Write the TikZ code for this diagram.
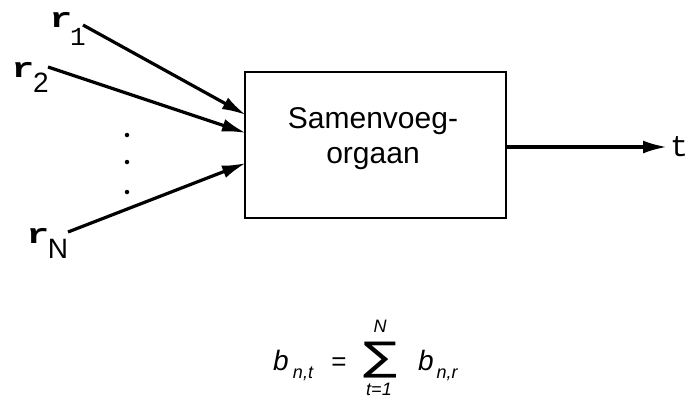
\documentclass[tikz,border=0pt]{standalone}
\usepackage{amsmath}
\usepackage{graphicx}
\usepackage{fontspec}
\setmainfont{Liberation Sans}
\newfontfamily\tyfont{Liberation Mono}
\newfontfamily\sigfont{DejaVu Sans}
\usetikzlibrary{arrows.meta}
\begin{document}
\begin{tikzpicture}[x=1pt,y=-1pt,
  conn/.style={line width=3.2pt,-{Latex[length=24pt,width=13pt]}},
  rlab/.style={inner sep=0pt,anchor=base,xscale=1.35,font=\tyfont\bfseries\fontsize{28}{28}\selectfont},
  slab/.style={inner sep=0pt,anchor=base,font=\fontsize{28}{28}\selectfont},
  dotn/.style={circle,fill,inner sep=0pt,minimum size=4.5pt},
  fb/.style={inner sep=0pt,anchor=base,font=\itshape\fontsize{28}{28}\selectfont},
  fs/.style={inner sep=0pt,anchor=base,font=\itshape\fontsize{18}{18}\selectfont}]
\useasboundingbox (0,0) rectangle (690,399);
% box
\node[draw,line width=2.4pt,minimum width=261pt,minimum height=146pt,inner sep=0pt] (box) at (375.5,145) {};
\node[inner sep=0pt,align=center,font=\fontsize{30}{35}\selectfont] (txt) at (373,139) {Samenvoeg-\\orgaan};
% labels
\node[rlab] (r1) at (61,27) {r};
\node[inner sep=0pt,anchor=base,font=\tyfont\fontsize{26}{26}\selectfont] (r1s) at (78,45) {1};
\node[rlab] (r2) at (23,77) {r};
\node[slab] (r2s) at (41,92) {2};
\node[rlab] (rN) at (38,243) {r};
\node[slab] (rNs) at (58,258) {N};
\node[inner sep=0pt,anchor=base west,font=\tyfont\fontsize{30}{30}\selectfont] (t) at (670,156) {t};
% dots
\node[dotn] (d1) at (127,135) {};
\node[dotn] (d2) at (127,162) {};
\node[dotn] (d3) at (127,192) {};
% connector ends
\coordinate (s1) at (83,25);
\coordinate (e1) at (246,115);
\coordinate (s2) at (48,67);
\coordinate (e2) at (246,133);
\coordinate (sN) at (68,232);
\coordinate (eN) at (246,163);
\coordinate (o1) at (box.east |- 0,147);
\coordinate (o2) at (667,147);
\draw[conn] (s1) -- (e1);
\draw[conn] (s2) -- (e2);
\draw[conn] (sN) -- (eN);
\draw[conn] (o1) -- (o2);
% formula
\node[fb] (b1) at (281,370) {b};
\node[fs] (b1s) at (303,378) {n,t};
\node[inner sep=0pt,anchor=base,font=\fontsize{26}{26}\selectfont] (eq) at (339,370) {=};
\node[inner sep=0pt] (sig) at (380,360) {\resizebox*{34pt}{36pt}{\sigfont\char"2211}};
\node[fs] (sN2) at (380,332) {N};
\node[fs] (sl) at (379,395) {t=1};
\node[fb] (b2) at (426,370) {b};
\node[fs] (b2s) at (447,378) {n,r};
\end{tikzpicture}
\end{document}
